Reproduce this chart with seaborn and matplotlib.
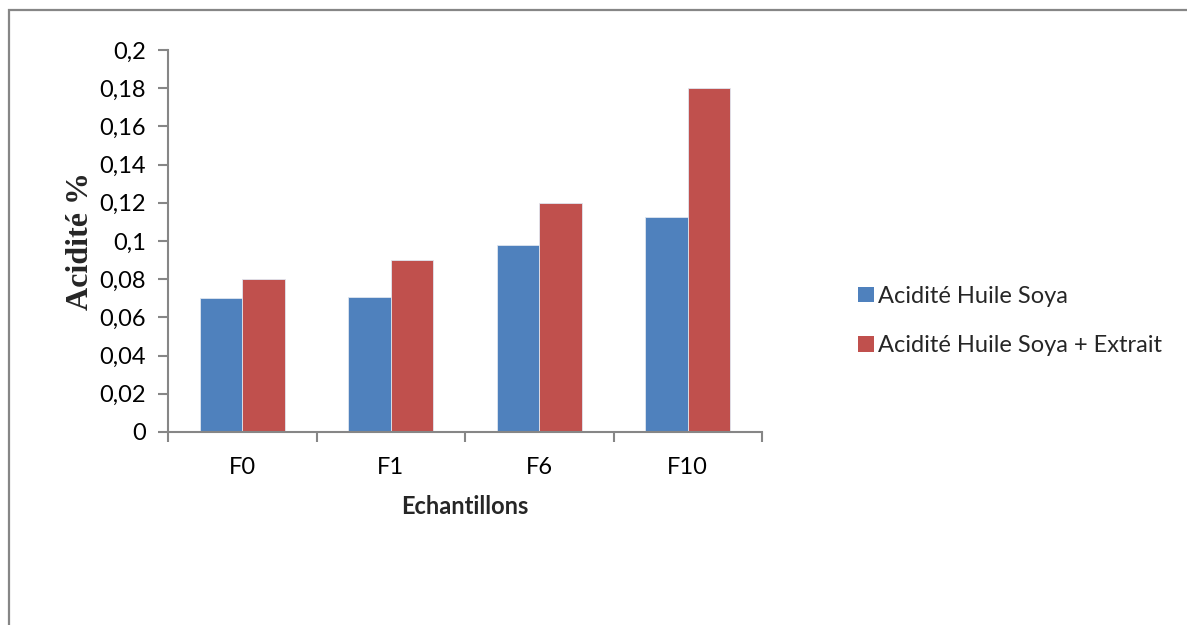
import matplotlib
matplotlib.use("Agg")
import matplotlib.pyplot as plt
from matplotlib.patches import Rectangle, Patch
import seaborn as sns
import pandas as pd

# Sample labels and acidity measurements
echantillons = ["F0", "F1", "F6", "F10"]
acidite_huile = [0.070, 0.0705, 0.0977, 0.1127]
acidite_extrait = [0.080, 0.090, 0.120, 0.180]
series = ["Acidité Huile Soya", "Acidité Huile Soya + Extrait"]
y_ticks = [0, 0.02, 0.04, 0.06, 0.08, 0.1, 0.12, 0.14, 0.16, 0.18, 0.2]
y_tick_labels = ["0", "0,02", "0,04", "0,06", "0,08", "0,1", "0,12", "0,14", "0,16", "0,18", "0,2"]

df = pd.DataFrame({
    "Echantillon": echantillons * 2,
    "Serie": [series[0]] * len(echantillons) + [series[1]] * len(echantillons),
    "Acidite": acidite_huile + acidite_extrait,
})

sns.set_theme(style="white")
plt.rcParams["font.family"] = ["Lato", "DejaVu Sans"]

W, H = 1187, 625
fig = plt.figure(figsize=(W / 100, H / 100), dpi=100)
ax = fig.add_axes([168 / W, 1 - 432 / H, (762 - 168) / W, (432 - 50) / H])

colors = ["#4F81BD", "#C0504D"]
sns.barplot(data=df, x="Echantillon", y="Acidite", hue="Serie", order=echantillons,
            hue_order=series, palette=colors, width=0.573, gap=0, ax=ax,
            edgecolor="#dfe6f0", linewidth=0.6, legend=False, saturation=1)

axis_gray = "#868686"
ax.set_xlim(-0.5, len(echantillons) - 0.5)
ax.set_ylim(0, 0.2)
ax.set_yticks(y_ticks)
ax.set_yticklabels(y_tick_labels, fontsize=17)
ax.set_xticks(range(len(echantillons)))
ax.set_xticklabels(echantillons, fontsize=17)
ax.set_xticks([i - 0.5 for i in range(len(echantillons) + 1)], minor=True)
ax.tick_params(axis="x", which="major", length=0, pad=18, colors="black")
ax.tick_params(axis="x", which="minor", length=7, width=1.5, color=axis_gray, direction="out")
ax.tick_params(axis="y", which="major", length=7, width=1.5, color=axis_gray, direction="out",
               pad=9, labelcolor="black")
ax.tick_params(axis="both", bottom=True, left=True, which="both")

for side in ["top", "right"]:
    ax.spines[side].set_visible(False)
for side in ["left", "bottom"]:
    ax.spines[side].set_color(axis_gray)
    ax.spines[side].set_linewidth(1.5)

ax.set_xlabel("Echantillons", fontsize=17, fontweight="bold", labelpad=12)
ax.set_ylabel("Acidité %", fontsize=23, fontweight="bold", family=["Liberation Serif"],
              labelpad=3)

handles = [Patch(facecolor=c, edgecolor="none") for c in colors]
fig.legend(handles, series, loc="center left", bbox_to_anchor=(837 / W, 1 - 321 / H),
           frameon=False, fontsize=17, handlelength=0.65, handleheight=0.65,
           handletextpad=0.2, labelspacing=1.2)

# Outer chart frame
fig.add_artist(Rectangle((9 / W, -0.2), 1.5, 1.2 - 10 / H, transform=fig.transFigure,
                         fill=False, edgecolor=axis_gray, linewidth=1.6))

fig.savefig("out.png", dpi=100, facecolor="white")
